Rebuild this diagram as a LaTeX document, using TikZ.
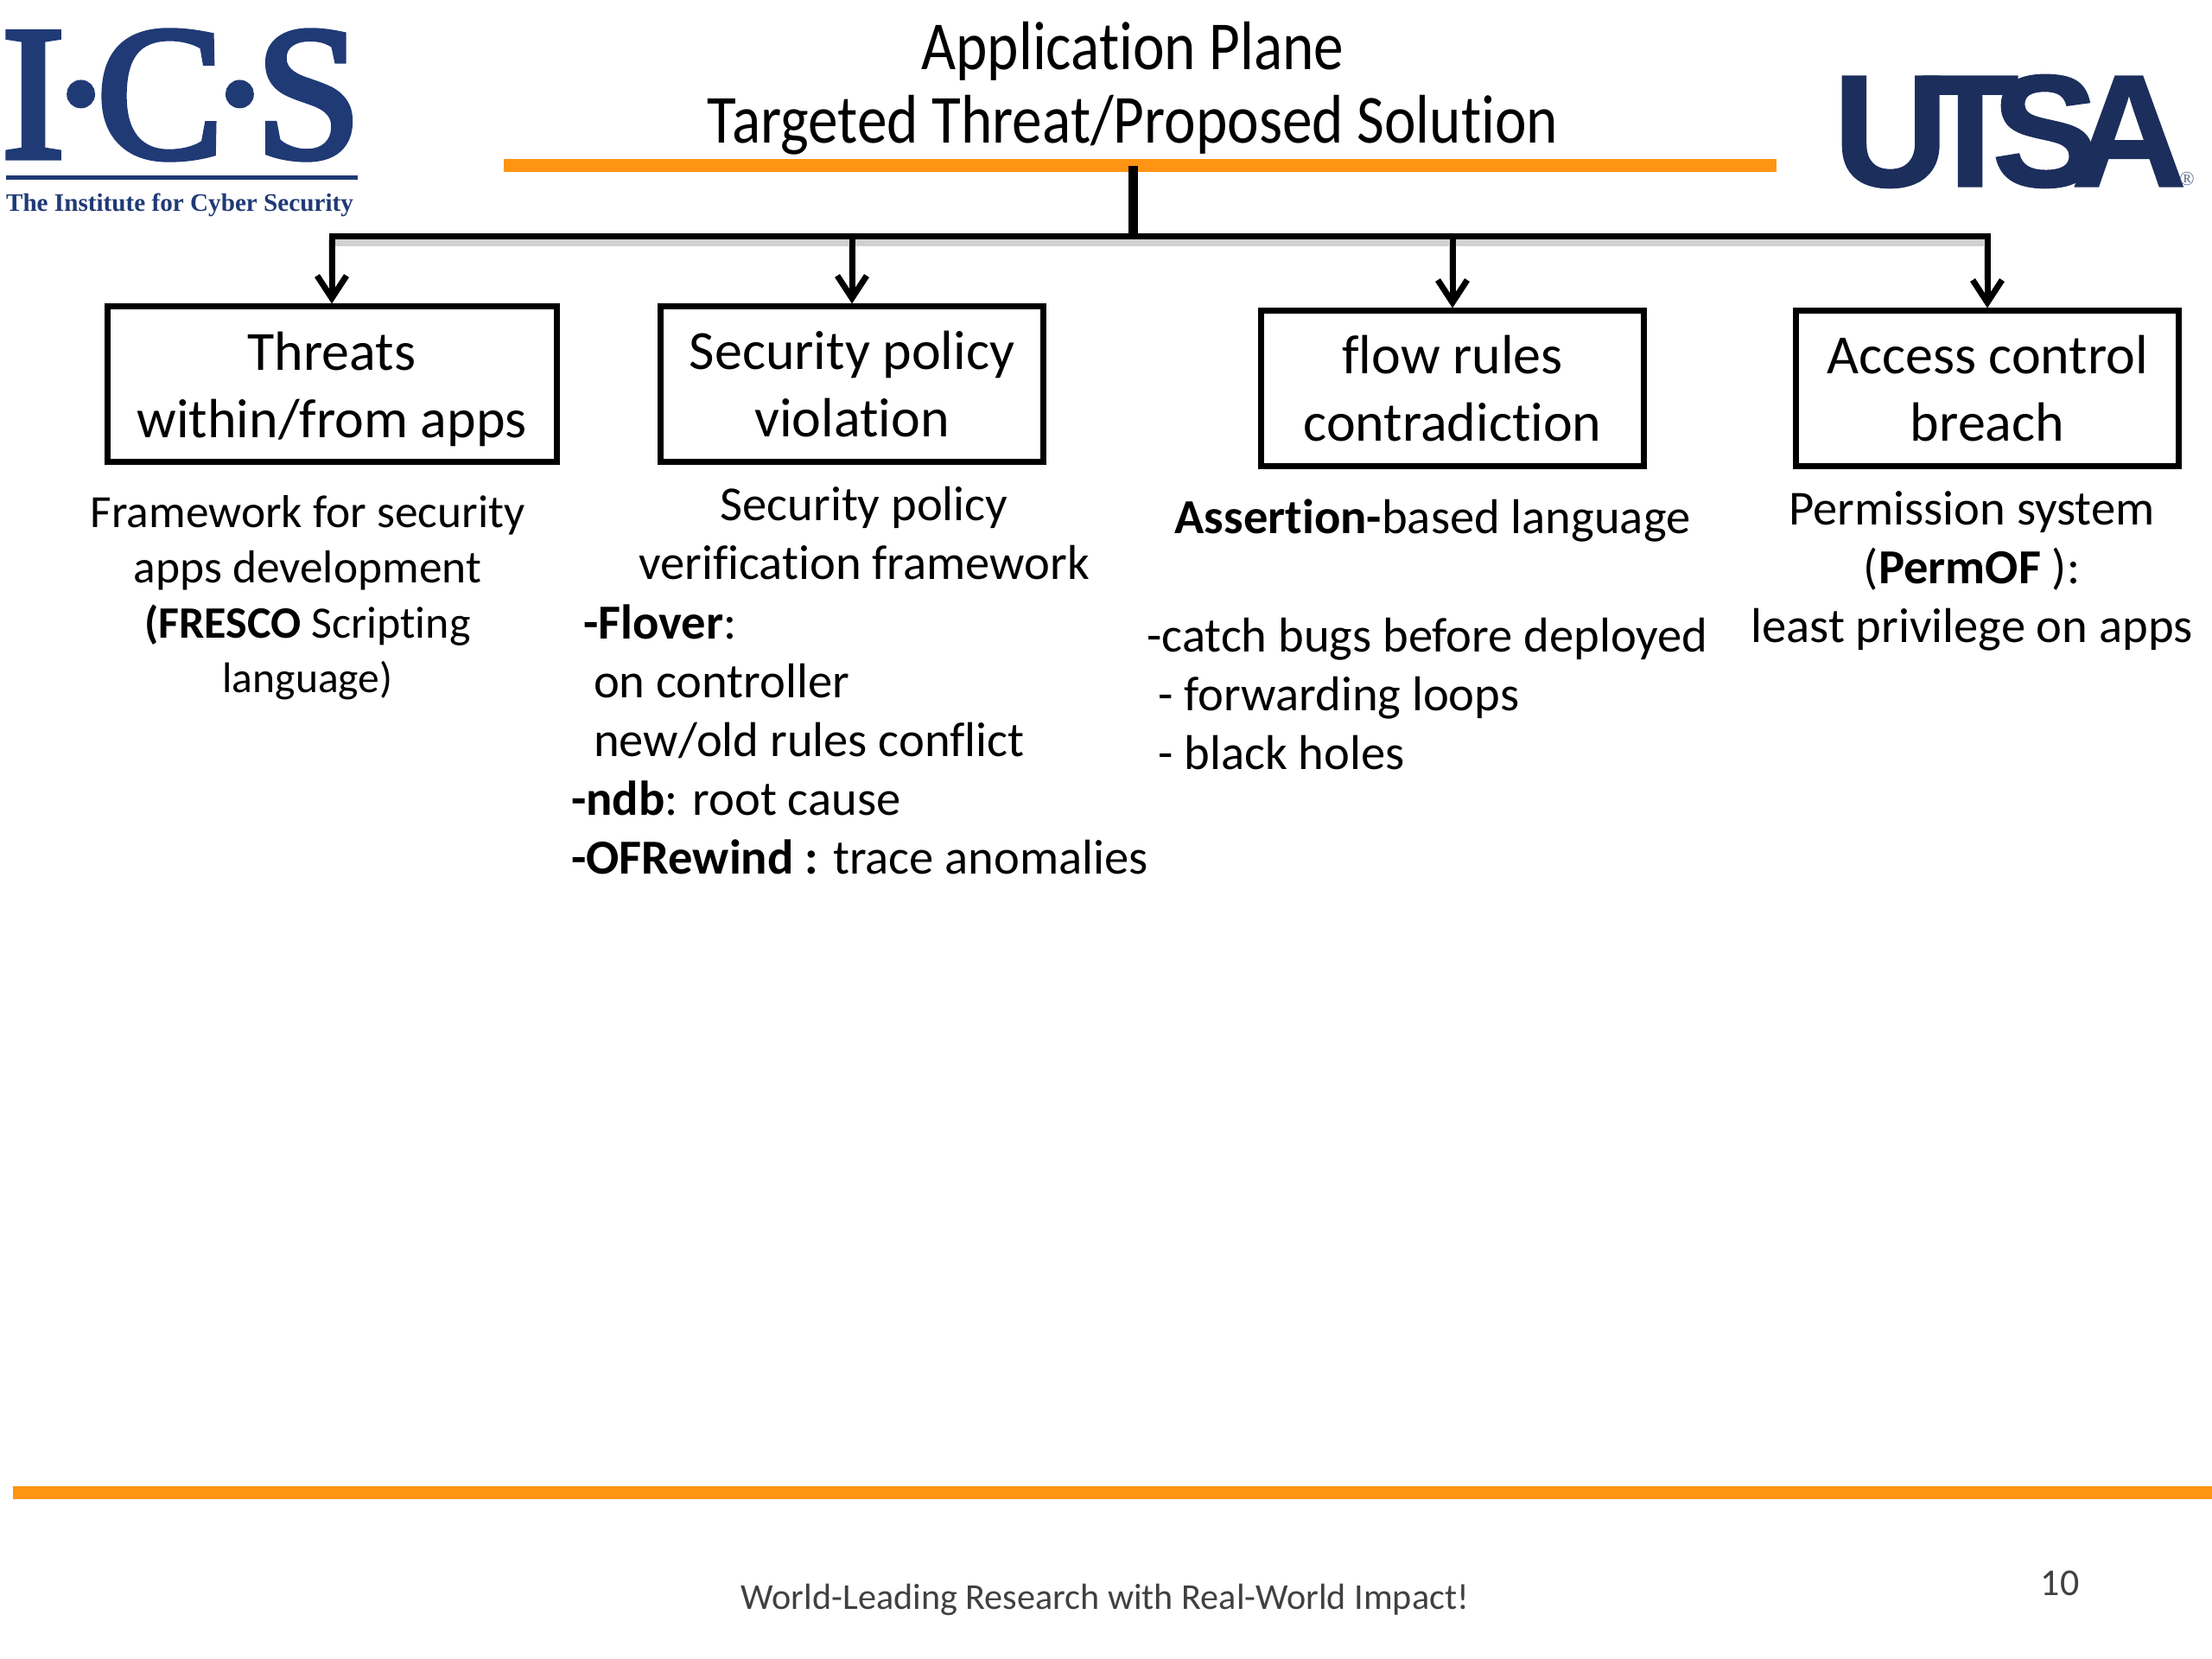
\documentclass[tikz,border=0pt]{standalone}
\usepackage{fontspec}
\setmainfont[Ligatures=NoCommon]{Carlito}
\newfontfamily\logoserif[LetterSpace=-8.5,FakeBold=3]{Liberation Serif}
\newfontfamily\nameserif{Liberation Serif}
\newfontfamily\logosans[LetterSpace=-17,FakeBold=1]{Liberation Sans}
\usetikzlibrary{arrows.meta, positioning}
\definecolor{mnavy}{RGB}{32,58,118}
\definecolor{mutsa}{RGB}{28,46,92}
\definecolor{morange}{RGB}{255,148,18}
\newcommand{\bodyfont}{\fontsize{16.1}{19.4}\selectfont}

\begin{document}
\begin{tikzpicture}[
  threatbox/.style={draw,line width=0.7mm,minimum height=1.8cm,
              align=center,inner sep=0pt,font=\fontsize{18.2}{22.2}\selectfont},
  captxt/.style={align=center,inner sep=0pt,font=\bodyfont},
  lsttxt/.style={align=left,inner sep=0pt,font=\bodyfont},
  arr/.style={-{Straight Barb[length=2.6mm,width=3.4mm,line width=0.7mm]},line width=0.7mm},
  bar/.style={fill=morange,draw=none,inner sep=0pt}
]
\useasboundingbox (0,0) rectangle (25.6,19.2);
% logos
\node[inner sep=0pt,text=mnavy,font=\logoserif\fontsize{63}{64}\selectfont] (ics) at (2.1,18.1) {I·C·S};
\node[bar,fill=mnavy,minimum width=4.07cm,minimum height=0.05cm] (icsrule) at (2.1,17.14) {};
\node[inner sep=0pt,text=mnavy,font=\nameserif\bfseries\fontsize{8.3}{10}\selectfont] (icsname) at (2.08,16.83) {The Institute for Cyber Security};
\node[inner sep=0pt,text=mutsa,font=\logosans\bfseries\fontsize{52.6}{53}\selectfont] (utsa) at (23.26,17.68) {UTSA};
\node[inner sep=0pt,text=mutsa!70,font=\nameserif\fontsize{6.5}{7}\selectfont] (reg) at (25.31,17.13) {®};
% title
\node[inner sep=0pt,align=center,yscale=1.15,transform shape,font=\fontsize{19.7}{21}\selectfont] (title) at (13.11,18.18) {Application Plane\\Targeted Threat/Proposed Solution};
\node[bar,minimum width=14.73cm,minimum height=0.15cm] (toprule) at (13.19,17.28) {};
\node[bar,minimum width=25.45cm,minimum height=0.15cm] (botrule) at (12.875,1.92) {};
% threat boxes
\node[threatbox,minimum width=5.2cm] (threats) at (3.84,14.75) {Threats\\\raisebox{0pt}[\height][0pt]{within/from apps}};
\node[threatbox,minimum width=4.43cm] (policy) at (9.86,14.75) {Security policy\\violation};
\node[threatbox,minimum width=4.43cm] (flow) at (16.81,14.7) {flow rules\\contradiction};
\node[threatbox,minimum width=4.43cm] (access) at (23.0,14.7) {Access control\\breach};
\coordinate (hub) at (13.11,16.46);
\foreach \boxname in {threats,policy,flow,access}
  \draw[black!18,line width=0.8mm,shorten >=4mm,transform canvas={yshift=-0.75mm}] (hub) -| (\boxname.north);
\foreach \boxname in {threats,policy,flow,access}
  \draw[arr] (hub) -| (\boxname.north);
\draw[line width=1.1mm] (hub |- toprule) -- (hub);
% solutions
\node[captxt,font=\fontsize{15.2}{18.1}\selectfont] (fresco) at (3.56,12.28) {Framework for security\\apps development\\\fontsize{14.8}{18.1}\selectfont\textbf{(FRESCO} Scripting\\\fontsize{14.1}{18.1}\selectfont language)};
\node[captxt] (verif) at (10.0,13.03) {Security policy\\verification framework};
\node[lsttxt] (flover) at (9.95,10.64) {\hspace*{0.14cm}\textbf{-Flover}:\\\hspace*{0.26cm}on controller\\\hspace*{0.26cm}new/old rules conflict\\\textbf{-ndb}: root cause\\\textbf{-OFRewind :} trace anomalies};
\node[captxt] (assert) at (16.58,13.17) {\textbf{Assertion-}based language};
\node[lsttxt] (bugs) at (16.52,11.17) {-catch bugs before deployed\\\hspace*{0.13cm}- forwarding loops\\\hspace*{0.13cm}- black holes};
\node[captxt] (perm) at (22.82,12.59) {Permission system\\(\textbf{PermOF} ):\\least privilege on apps};
% footer
\node[inner sep=0pt,text=black!75,font=\fontsize{12}{15}\selectfont] (slogan) at (12.79,0.69) {World-Leading Research with Real-World Impact!};
\node[inner sep=0pt,text=black!75,font=\fontsize{12.5}{15}\selectfont] (pagenum) at (23.84,0.88) {10};
\end{tikzpicture}
\end{document}
